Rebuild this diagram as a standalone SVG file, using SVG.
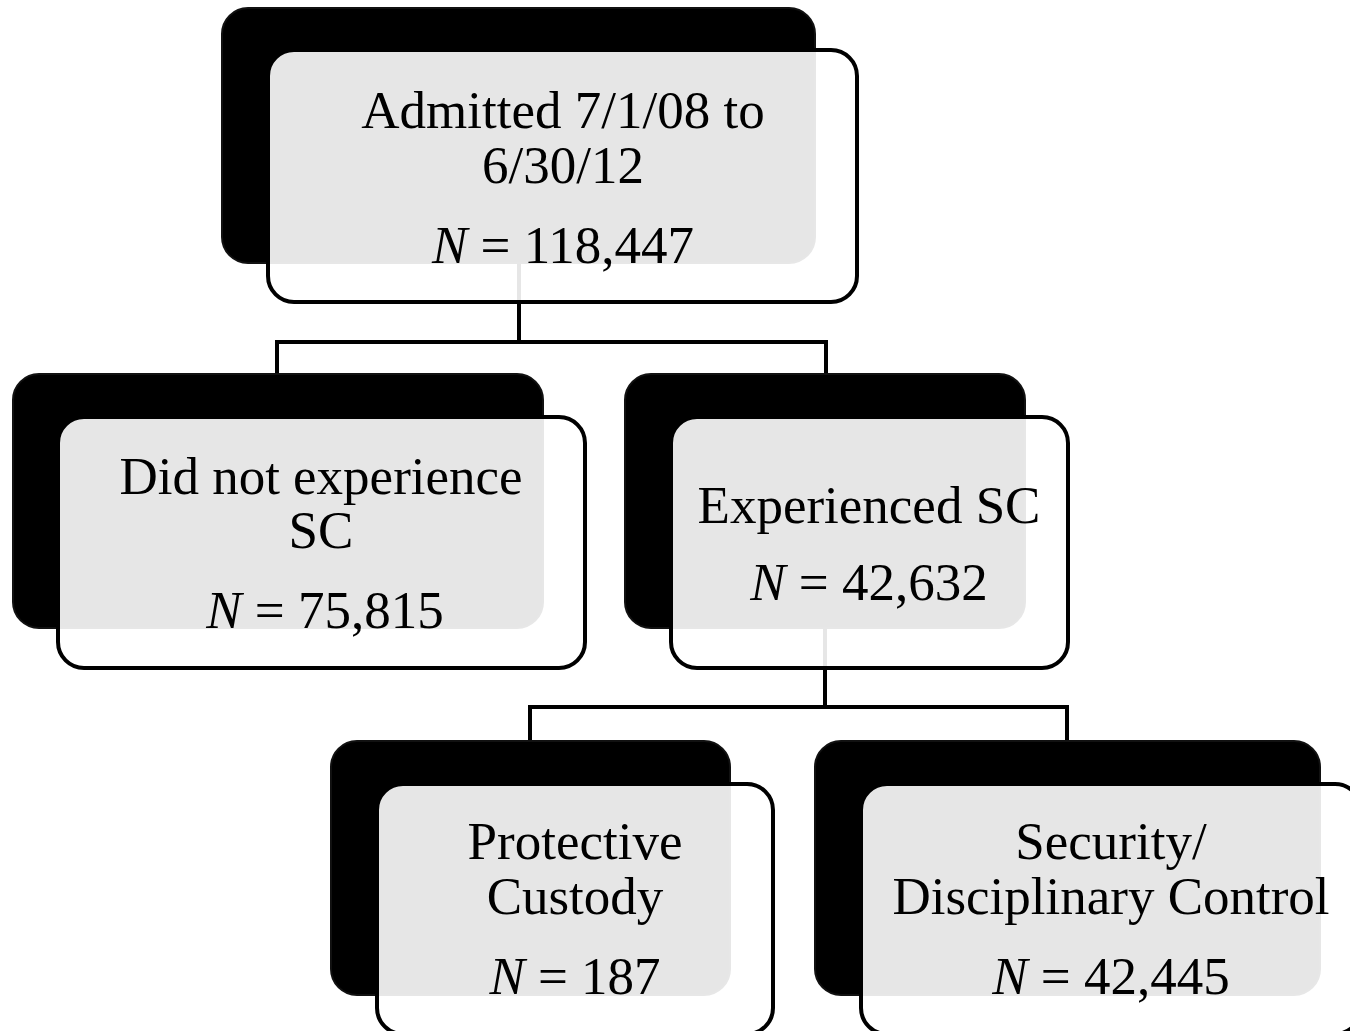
<svg xmlns="http://www.w3.org/2000/svg" width="1350" height="1031" viewBox="0 0 1350 1031">
<style>
.back{fill:#000;stroke:#111;stroke-width:2}
.front{fill:#fff;fill-opacity:0.9;stroke:#000;stroke-width:4}
.t{font-family:"Liberation Serif","Times New Roman",serif;font-size:53px;fill:#000;text-anchor:middle}
.conn{fill:none;stroke:#000;stroke-width:4}
</style>
<rect width="1350" height="1031" fill="#fff"/>
<g id="connectors">
<path class="conn" d="M519 263 V342 M277 342 H826 M277 340 V374 M826 340 V374"/>
<path class="conn" d="M825 628 V707 M530 707 H1067 M530 705 V741 M1067 705 V741"/>
</g>
<g id="node-admitted">
<rect class="back" x="222" y="8" width="593" height="255" rx="26"/>
<rect class="front" x="268" y="50" width="589" height="252" rx="26"/>
<text class="t" x="563" y="128">Admitted 7/1/08 to</text>
<text class="t" x="563" y="183">6/30/12</text>
<text class="t" x="563" y="263"><tspan font-style="italic">N</tspan> = 118,447</text>
</g>
<g id="node-not-sc">
<rect class="back" x="13" y="374" width="530" height="254" rx="26"/>
<rect class="front" x="58" y="417" width="527" height="251" rx="26"/>
<text class="t" x="321" y="494">Did not experience</text>
<text class="t" x="321" y="548">SC</text>
<text class="t" x="325" y="628"><tspan font-style="italic">N</tspan> = 75,815</text>
</g>
<g id="node-sc">
<rect class="back" x="625" y="374" width="400" height="254" rx="26"/>
<rect class="front" x="671" y="417" width="397" height="251" rx="26"/>
<text class="t" x="869" y="523">Experienced SC</text>
<text class="t" x="869" y="600"><tspan font-style="italic">N</tspan> = 42,632</text>
</g>
<g id="node-protective">
<rect class="back" x="331" y="741" width="399" height="254" rx="26"/>
<rect class="front" x="377" y="784" width="396" height="250" rx="26"/>
<text class="t" x="575" y="859">Protective</text>
<text class="t" x="575" y="914">Custody</text>
<text class="t" x="575" y="994"><tspan font-style="italic">N</tspan> = 187</text>
</g>
<g id="node-security">
<rect class="back" x="815" y="741" width="505" height="254" rx="26"/>
<rect class="front" x="861" y="784" width="500" height="250" rx="26"/>
<text class="t" x="1111" y="859">Security/</text>
<text class="t" x="1111" y="914">Disciplinary Control</text>
<text class="t" x="1111" y="994"><tspan font-style="italic">N</tspan> = 42,445</text>
</g>
</svg>
